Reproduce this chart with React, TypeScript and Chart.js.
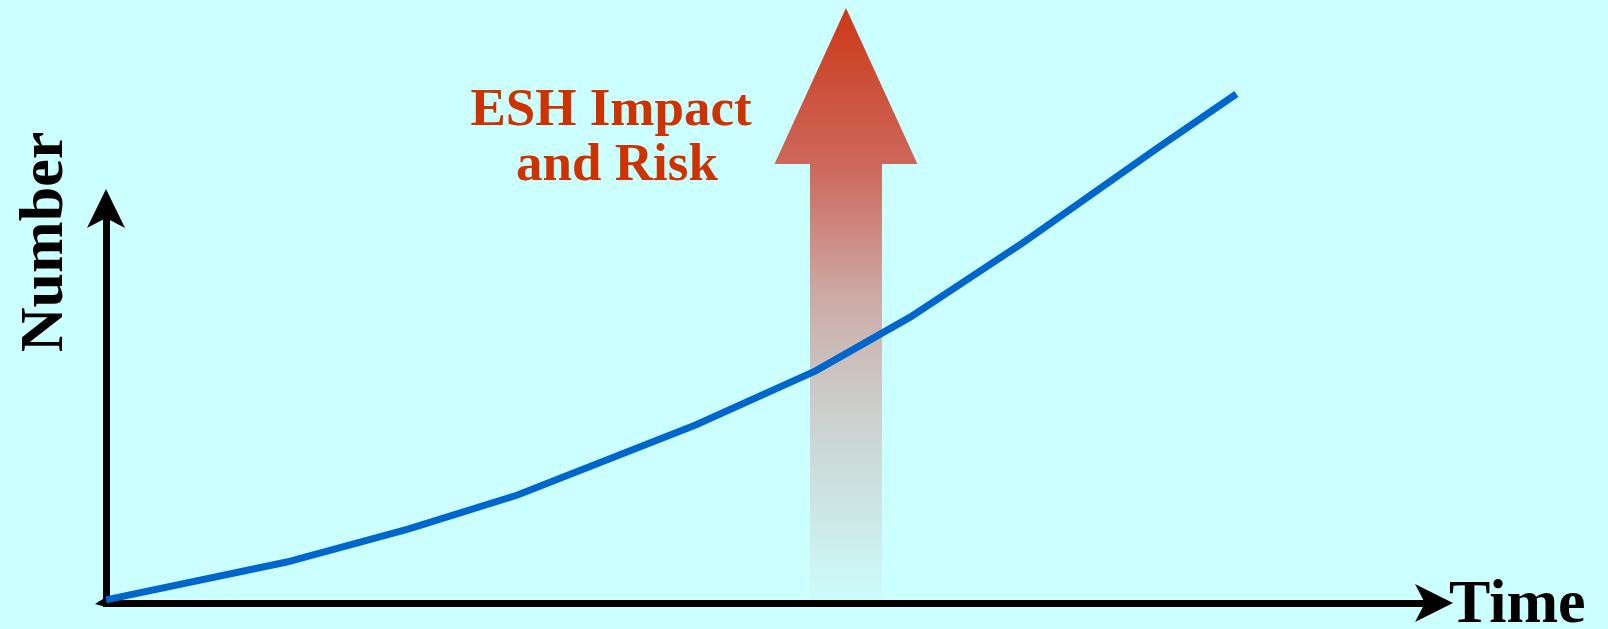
import React, { useEffect, useRef } from "react";
import { Chart, registerables } from "chart.js";

Chart.register(...registerables);

// Data (unitless)
const timeValues: number[] = [0, 13.7, 22.9, 31.2, 44.7, 53.8, 61.0, 69.5, 79.6, 85.7];
const numberValues: number[] = [0.8, 10.7, 19.3, 28.2, 46.5, 60.6, 74.7, 94.0, 118.5, 132.9];
const xAxisTitle = "Time";
const yAxisTitle = "Number";
const annotationLines: string[] = ["ESH Impact", "and Risk"];
const ARROW_X_VALUE = 56.1;

const BG = "#CCFFFF";
const LINE_COLOR = "#0066CC";
const TEXT_RED = "#CC3300";
const FONT = '"Liberation Serif", "Times New Roman", serif';

const decorPlugin = {
  id: "decor",
  beforeDatasetsDraw(chart: any) {
    const ctx = chart.ctx as CanvasRenderingContext2D;
    const xs = chart.scales.x;
    const cx = xs.getPixelForValue(ARROW_X_VALUE);
    const tipY = 8;
    const headBase = 164;
    const bottom = 600;
    const shaftHalf = 36;
    const headHalf = 71.5;
    ctx.save();
    const g = ctx.createLinearGradient(0, tipY, 0, bottom);
    g.addColorStop(0, "rgb(204,56,24)");
    g.addColorStop(0.27, "rgb(205,105,92)");
    g.addColorStop(0.48, "rgb(204,168,164)");
    g.addColorStop(0.66, "rgb(204,204,202)");
    g.addColorStop(1, "rgb(204,252,252)");
    ctx.fillStyle = g;
    ctx.beginPath();
    ctx.moveTo(cx, tipY);
    ctx.lineTo(cx + headHalf, headBase);
    ctx.lineTo(cx + shaftHalf, headBase);
    ctx.lineTo(cx + shaftHalf, bottom);
    ctx.lineTo(cx - shaftHalf, bottom);
    ctx.lineTo(cx - shaftHalf, headBase);
    ctx.lineTo(cx - headHalf, headBase);
    ctx.closePath();
    ctx.fill();

    // annotation text
    ctx.fillStyle = TEXT_RED;
    ctx.font = `bold 53px ${FONT}`;
    ctx.textAlign = "center";
    ctx.textBaseline = "alphabetic";
    ctx.fillText(annotationLines[0], 611, 125);
    ctx.fillText(annotationLines[1], 617, 180);
    ctx.restore();
  },
  afterDraw(chart: any) {
    const ctx = chart.ctx as CanvasRenderingContext2D;
    const xs = chart.scales.x;
    const ys = chart.scales.y;
    const x0 = xs.getPixelForValue(0);
    const y0 = ys.getPixelForValue(0);
    const xEnd = xs.right;
    const yEnd = ys.top;
    ctx.save();
    ctx.fillStyle = "#000";
    // x arrowhead
    ctx.beginPath();
    ctx.moveTo(xEnd + 28, y0);
    ctx.lineTo(xEnd - 10, y0 - 19);
    ctx.lineTo(xEnd, y0);
    ctx.lineTo(xEnd - 10, y0 + 19);
    ctx.closePath();
    ctx.fill();
    // y arrowhead
    ctx.beginPath();
    ctx.moveTo(x0, yEnd - 31);
    ctx.lineTo(x0 + 19, yEnd + 8);
    ctx.lineTo(x0, yEnd - 2);
    ctx.lineTo(x0 - 19, yEnd + 8);
    ctx.closePath();
    ctx.fill();
    // small origin mark
    ctx.beginPath();
    ctx.moveTo(x0 - 11, y0 + 1);
    ctx.lineTo(x0, y0 - 6);
    ctx.lineTo(x0, y0 + 4);
    ctx.closePath();
    ctx.fill();

    // axis titles
    ctx.font = `bold 62px ${FONT}`;
    ctx.textBaseline = "alphabetic";
    ctx.textAlign = "left";
    ctx.fillText(xAxisTitle, xEnd + 24, 622);
    ctx.translate(62, 242);
    ctx.rotate(-Math.PI / 2);
    ctx.textAlign = "center";
    ctx.fillText(yAxisTitle, 0, 0);
    ctx.restore();
  },
};

export default function App() {
  const ref = useRef<HTMLCanvasElement | null>(null);
  useEffect(() => {
    document.body.style.margin = "0";
    document.body.style.background = BG;
    const canvas = ref.current!;
    const chart = new Chart(canvas, {
      type: "line",
      data: {
        datasets: [
          {
            data: timeValues.map((t, i) => ({ x: t, y: numberValues[i] })),
            borderColor: LINE_COLOR,
            borderWidth: 7,
            pointRadius: 0,
            tension: 0,
            clip: false as any,
            fill: false,
          },
        ],
      },
      options: {
        responsive: false,
        animation: false,
        devicePixelRatio: 1,
        layout: { padding: { left: 106, right: 1608 - 1425, top: 220, bottom: 629 - 603 } },
        plugins: { legend: { display: false }, tooltip: { enabled: false } },
        scales: {
          x: {
            type: "linear",
            min: 0,
            max: 100,
            grid: { display: false, drawTicks: false },
            ticks: { display: false },
            border: { display: true, color: "#000", width: 7 },
          },
          y: {
            type: "linear",
            min: 0,
            max: 100,
            grid: { display: false, drawTicks: false },
            ticks: { display: false },
            border: { display: true, color: "#000", width: 7 },
          },
        },
      },
      plugins: [decorPlugin],
    });
    return () => chart.destroy();
  }, []);
  return (
    <div style={{ position: "absolute", left: 0, top: 0, width: 1608, height: 629, background: BG }}>
      <canvas ref={ref} width={1608} height={629} style={{ display: "block", width: 1608, height: 629 }} />
    </div>
  );
}
